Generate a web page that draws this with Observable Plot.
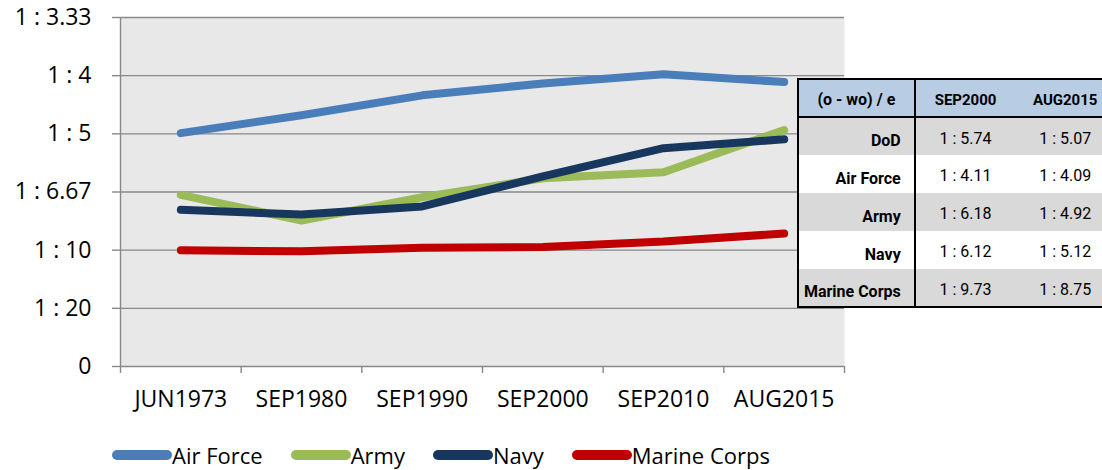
<!DOCTYPE html>
<html>
<head>
<meta charset="utf-8">
<script src="https://cdn.jsdelivr.net/npm/d3@7"></script>
<script src="https://cdn.jsdelivr.net/npm/@observablehq/plot@0.6"></script>
<style>
  html, body { margin: 0; padding: 0; background: #fff; overflow: hidden; }
  #wrap { position: relative; width: 1102px; height: 470px; overflow: hidden; }
  #chart { position: absolute; left: 0; top: 0; }
  #legend { position: absolute; left: 112px; top: 440px; display: flex; align-items: center;
            font-family: "Open Sans", sans-serif; font-size: 22px; color: #000; white-space: nowrap; }
  #legend .item { display: flex; align-items: center; margin-right: 28px; }
  #legend .sw { display: inline-block; width: 60px; height: 10px; border-radius: 5px; }
  #tbl { position: absolute; left: 797px; top: 78px; border-collapse: collapse; table-layout: fixed;
         width: 320px; font-family: Roboto, sans-serif; color: #000; border: 2px solid #000; }
  #tbl tr { height: 38px; }
  #tbl td, #tbl th { padding: 0; box-sizing: border-box; }
  #tbl th { background: #b8cce4; font-weight: bold; font-size: 15px; text-align: center;
            border-bottom: 2px solid #000; padding-top: 3px; }
  #tbl th.c1 { font-size: 16px; }
  #tbl td.lab { font-weight: bold; font-size: 16px; text-align: right; padding-right: 13px;
                vertical-align: bottom; padding-bottom: 5px; }
  #tbl td.val { font-size: 16px; text-align: center; vertical-align: middle; padding-top: 3px; }
  #tbl .c1 { width: 116px; border-right: 2px solid #000; }
  #tbl .c2 { width: 100px; }
  #tbl .c3 { width: 100px; }
  #tbl tr.g td { background: #d9d9d9; }
  #tbl tr.w td { background: #fff; }
</style>
</head>
<body>
<div id="wrap">
  <div id="chart"></div>
  <table id="tbl"></table>
  <div id="legend"></div>
</div>
<script>
// ---- data (officer-to-enlisted ratio, expressed as o/e) ----
const categories = ["JUN1973", "SEP1980", "SEP1990", "SEP2000", "SEP2010", "AUG2015"];
const seriesNames = ["Air Force", "Army", "Navy", "Marine Corps"];
const airForce    = [0.2006, 0.2160, 0.2331, 0.2433, 0.2512, 0.2445];
const army        = [0.1476, 0.1255, 0.1455, 0.1618, 0.1670, 0.2033];
const navy        = [0.1347, 0.1306, 0.1376, 0.1634, 0.1877, 0.1953];
const marineCorps = [0.0999, 0.0990, 0.1020, 0.1028, 0.1074, 0.1143];

const yTicks      = [0, 0.05, 0.1, 0.15, 0.2, 0.25, 0.3];
const yTickLabels = ["0", "1 : 20", "1 : 10", "1 : 6.67", "1 : 5", "1 : 4", "1 : 3.33"];

// table
const tableHeader  = ["(o - wo) / e", "SEP2000", "AUG2015"];
const tableRows    = ["DoD", "Air Force", "Army", "Navy", "Marine Corps"];
const tableSep2000 = ["1 : 5.74", "1 : 4.11", "1 : 6.18", "1 : 6.12", "1 : 9.73"];
const tableAug2015 = ["1 : 5.07", "1 : 4.09", "1 : 4.92", "1 : 5.12", "1 : 8.75"];

// ---- styles ----
const seriesColors = ["#4a7ebb", "#9bbb59", "#17375e", "#c00000"];
const gray = "#888888";

const seriesValues = [airForce, army, navy, marineCorps];
const rows = seriesNames.flatMap((s, i) =>
  categories.map((c, j) => ({series: s, idx: j, category: c, value: seriesValues[i][j]})));

const idx = d3.range(categories.length);
const edges = d3.range(categories.length + 1).map(i => i - 0.5);

const chart = Plot.plot({
  width: 1102,
  height: 420,
  marginLeft: 120,
  marginRight: 258,
  marginTop: 17,
  marginBottom: 54,
  style: {fontFamily: "'Open Sans', sans-serif", fontSize: "23px", color: "#000", background: "transparent", overflow: "visible"},
  x: {type: "linear", domain: [edges[0], edges[edges.length - 1]], axis: null, label: null},
  y: {type: "linear", domain: [yTicks[0], yTicks[yTicks.length - 1]], axis: null, label: null},
  color: {domain: seriesNames, range: seriesColors},
  marks: [
    Plot.frame({fill: "#e8e8e8", stroke: null}),
    Plot.gridY({ticks: yTicks.slice(1), stroke: gray, strokeOpacity: 1, strokeWidth: 1.4}),
    Plot.ruleX([edges[0]], {stroke: gray, strokeWidth: 1.4}),
    Plot.ruleY([yTicks[0]], {stroke: gray, strokeWidth: 1.4}),
    Plot.axisY({ticks: yTicks, tickSize: 8, tickPadding: 21, stroke: gray, strokeWidth: 1.4,
                fill: "#000", fontSize: 23, label: null,
                tickFormat: d => yTickLabels[yTicks.indexOf(d)]}),
    Plot.axisX({ticks: edges, tickSize: 7, stroke: gray, strokeWidth: 1.4, label: null,
                tickFormat: () => ""}),
    Plot.axisX({ticks: idx, tickSize: 0, tickPadding: 24, fill: "#000", fontSize: 23, label: null,
                tickFormat: i => categories[i]}),
    Plot.line(rows, {x: "idx", y: "value", z: "series", stroke: "series",
                     strokeWidth: 8, strokeLinecap: "round", strokeLinejoin: "round"})
  ]
});
document.getElementById("chart").appendChild(chart);

// ---- table ----
const tbl = document.getElementById("tbl");
const thead = document.createElement("tr");
tableHeader.forEach((h, i) => {
  const th = document.createElement("th");
  th.className = "c" + (i + 1);
  th.textContent = h;
  thead.appendChild(th);
});
tbl.appendChild(thead);
tableRows.forEach((r, i) => {
  const tr = document.createElement("tr");
  tr.className = i % 2 === 0 ? "g" : "w";
  [[r, "lab c1"], [tableSep2000[i], "val c2"], [tableAug2015[i], "val c3"]].forEach(([t, cls]) => {
    const td = document.createElement("td");
    td.className = cls;
    td.textContent = t;
    tr.appendChild(td);
  });
  tbl.appendChild(tr);
});

// ---- legend ----
const legend = document.getElementById("legend");
seriesNames.forEach((s, i) => {
  const item = document.createElement("span");
  item.className = "item";
  const sw = document.createElement("span");
  sw.className = "sw";
  sw.style.background = seriesColors[i];
  const label = document.createElement("span");
  label.textContent = s;
  item.appendChild(sw);
  item.appendChild(label);
  legend.appendChild(item);
});
</script>
</body>
</html>
